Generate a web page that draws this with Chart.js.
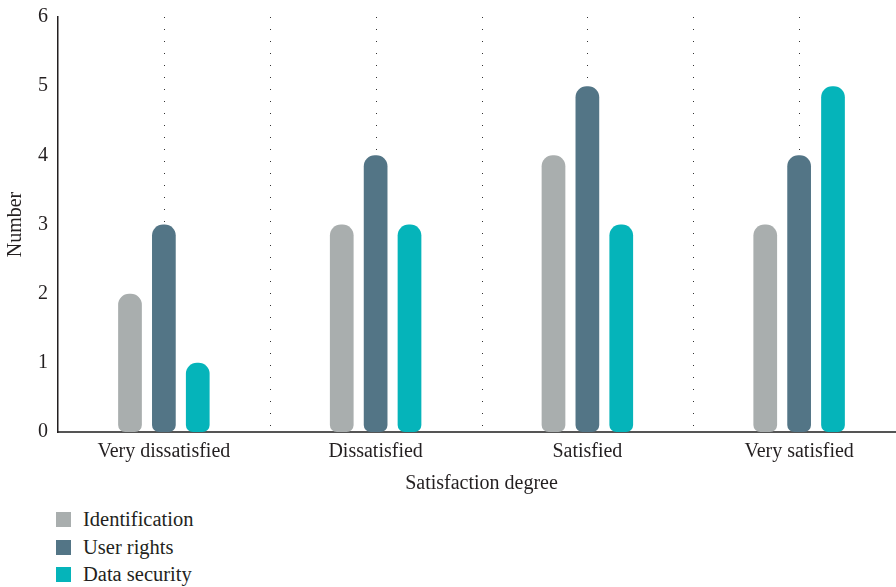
<!DOCTYPE html>
<html><head><meta charset="utf-8">
<script src="https://cdn.jsdelivr.net/npm/chart.js@4"></script>
<style>
html,body{margin:0;padding:0;background:#fff;overflow:hidden;width:896px;height:587px;}
#wrap{position:absolute;left:0;top:-5px;width:905px;height:501px;}
#legend{position:absolute;left:56px;top:506px;font-family:"Liberation Serif","DejaVu Serif",serif;font-size:20.5px;color:#231f20;}
.li{height:27.5px;display:flex;align-items:center;}
.sw{width:15px;height:15px;margin-right:12px;}
</style></head><body>
<div id="wrap"><canvas id="c" width="905" height="501"></canvas></div>
<div id="legend"></div>
<script>
const categories = ["Very dissatisfied","Dissatisfied","Satisfied","Very satisfied"];
const seriesNames = ["Identification","User rights","Data security"];
const identification = [2,3,4,3];
const userRights = [3,4,5,4];
const dataSecurity = [1,3,3,5];
const colors = ["#A9AEAE","#537586","#05B4BA"];
const yTicks = [0,1,2,3,4,5,6];

const values = [identification,userRights,dataSecurity];
const FONT = "'Liberation Serif','DejaVu Serif',serif";

const dotted = {
  id:'dotted',
  beforeDatasetsDraw(chart){
    const x = chart.scales.x, a = chart.chartArea, ctx = chart.ctx;
    ctx.save();
    ctx.fillStyle = '#333';
    const n = categories.length;
    const pos = [];
    for(let i=0;i<n;i++){
      pos.push(x.getPixelForValue(i));
      if(i>0) pos.push((x.getPixelForValue(i-1)+x.getPixelForValue(i))/2);
    }
    pos.forEach(px=>{
      for(let y=a.top; y<a.bottom-4; y+=12){
        ctx.fillRect(Math.round(px), Math.round(y), 1, 1);
      }
    });
    ctx.restore();
  }
};

new Chart(document.getElementById('c'),{
  type:'bar',
  data:{
    labels:categories,
    datasets:seriesNames.map((n,i)=>({
      label:n,
      data:values[i],
      backgroundColor:colors[i],
      borderWidth:0,
      borderSkipped:false,
      borderRadius:{topLeft:11,topRight:11,bottomLeft:7,bottomRight:7},
      categoryPercentage:0.48,
      barPercentage:0.7
    }))
  },
  options:{
    responsive:false,
    animation:false,
    layout:{padding:{top:4,left:4,right:0,bottom:0}},
    plugins:{legend:{display:false},tooltip:{enabled:false}},
    scales:{
      x:{
        grid:{display:false,drawTicks:false},
        border:{display:true,color:'#555',width:2},
        ticks:{font:{family:FONT,size:20},color:'#231f20',padding:8},
        title:{display:true,text:'Satisfaction degree',font:{family:FONT,size:20},color:'#231f20',padding:{top:0,bottom:0}}
      },
      y:{
        min:0,max:6,
        afterBuildTicks(s){ s.ticks = yTicks.map(v=>({value:v})); },
        grid:{display:false,drawTicks:false},
        border:{display:true,color:'#231f20',width:1.5},
        ticks:{font:{family:FONT,size:20},color:'#231f20',padding:10},
        title:{display:true,text:'Number',font:{family:FONT,size:20},color:'#231f20',padding:{top:0,bottom:0}}
      }
    }
  },
  plugins:[dotted]
});

const lg = document.getElementById('legend');
seriesNames.forEach((n,i)=>{
  const d=document.createElement('div');d.className='li';
  d.innerHTML='<div class="sw" style="background:'+colors[i]+'"></div><span>'+n+'</span>';
  lg.appendChild(d);
});
</script>
</body></html>
